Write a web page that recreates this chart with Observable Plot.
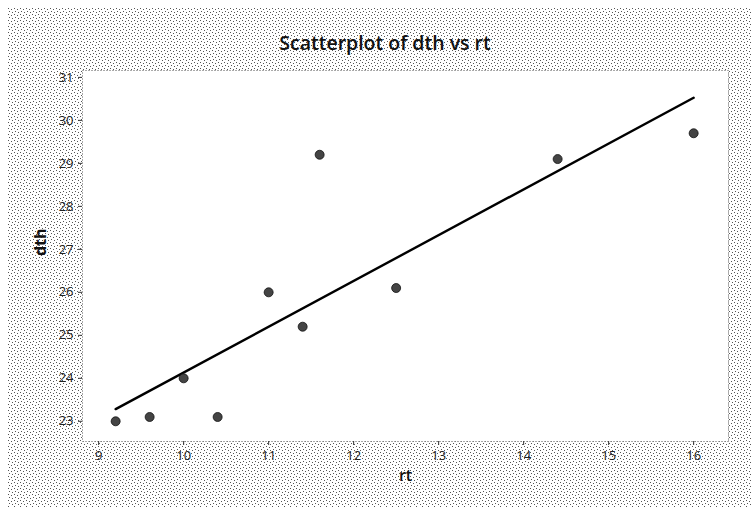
<!DOCTYPE html>
<html>
<head>
<meta charset="utf-8">
<script src="https://cdn.jsdelivr.net/npm/d3@7"></script>
<script src="https://cdn.jsdelivr.net/npm/@observablehq/plot@0.6"></script>
<style>
  html, body { margin: 0; padding: 0; background: #ffffff; }
  body { width: 752px; height: 507px; overflow: hidden; font-family: "Open Sans", "DejaVu Sans", sans-serif; }
  #wrap { position: relative; width: 752px; height: 507px; }
  #bg {
    position: absolute; left: 8px; top: 8px; width: 744px; height: 499px;
    background-color: #ffffff;
    background-image: url("data:image/svg+xml;utf8,<svg xmlns='http://www.w3.org/2000/svg' width='6' height='6' shape-rendering='crispEdges'><rect x='0' y='0' width='1' height='1' fill='%23555'/><rect x='3' y='1' width='1' height='1' fill='%23555'/><rect x='1' y='3' width='1' height='1' fill='%23555'/><rect x='4' y='4' width='1' height='1' fill='%23555'/></svg>");
  }
  #title {
    position: absolute; left: 0; top: 30px; width: 770px; text-align: center;
    font-size: 19.5px; font-weight: 600; color: #111; line-height: 26px;
  }
  #chart { position: absolute; left: 0; top: 0; }
</style>
</head>
<body>
<div id="wrap">
  <div id="bg"></div>
  <div id="chart"></div>
  <div id="title">Scatterplot of dth vs rt</div>
</div>
<script>
const rt  = [9.2, 9.6, 10.0, 10.4, 11.0, 11.4, 11.6, 12.5, 14.4, 16.0];
const dth = [23.0, 23.1, 24.0, 23.1, 26.0, 25.2, 29.2, 26.1, 29.1, 29.7];
const xTicks = [9, 10, 11, 12, 13, 14, 15, 16];
const yTicks = [23, 24, 25, 26, 27, 28, 29, 30, 31];
const xLabel = "rt";
const yLabel = "dth";

const data = rt.map((x, i) => ({rt: x, dth: dth[i]}));

const chart = Plot.plot({
  width: 752,
  height: 507,
  marginLeft: 82,
  marginRight: 24,
  marginTop: 70,
  marginBottom: 66,
  style: {background: "transparent", fontFamily: "'Open Sans', 'DejaVu Sans', sans-serif"},
  x: {domain: [8.81, 16.41], ticks: xTicks, label: null},
  y: {domain: [22.53, 31.16], ticks: yTicks, label: null},
  marks: [
    Plot.frame({fill: "white", stroke: "#555", strokeDasharray: "1,2"}),
    Plot.axisX({ticks: xTicks, tickSize: 4, tickPadding: 5, fontSize: 13, color: "#222", stroke: "#333", label: null}),
    Plot.axisY({ticks: yTicks, tickSize: 4, tickPadding: 5, fontSize: 13, color: "#222", stroke: "#333", label: null}),
    Plot.linearRegressionY(data, {x: "rt", y: "dth", ci: 0, stroke: "#000", strokeWidth: 2.4}),
    Plot.dot(data, {x: "rt", y: "dth", r: 4.5, fill: "#444", stroke: "#111", strokeWidth: 0.8}),
    Plot.text([xLabel], {frameAnchor: "bottom", dy: 39, fontSize: 16, fontWeight: 600, fill: "#111"}),
    Plot.text([yLabel], {frameAnchor: "left", dx: -42, rotate: -90, fontSize: 16, fontWeight: 700, fill: "#111"})
  ]
});
document.getElementById("chart").appendChild(chart);
</script>
</body>
</html>
